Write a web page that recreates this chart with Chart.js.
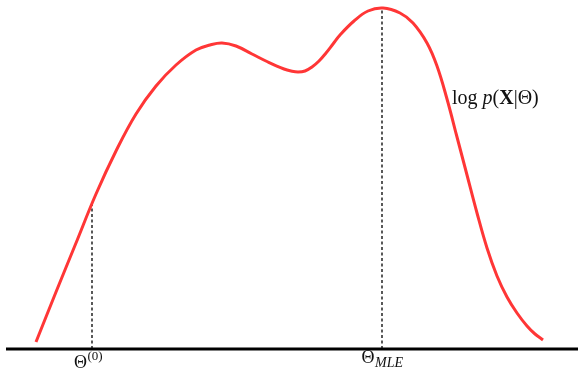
<!DOCTYPE html>
<html>
<head>
<meta charset="utf-8">
<style>
  html, body { margin: 0; padding: 0; background: #ffffff; }
  #wrap { width: 578px; height: 372px; }
</style>
<script src="https://cdn.jsdelivr.net/npm/chart.js@4/dist/chart.umd.min.js"></script>
</head>
<body>
<div id="wrap"><canvas id="c" width="578" height="372"></canvas></div>
<script>
// Parameter values along the horizontal axis
const theta = [36, 56, 76, 96, 116, 136, 156, 176, 196, 210, 222, 236, 252, 268, 284, 291, 298, 305, 312, 319, 326, 333, 340,
               354, 368, 383, 400, 413, 427, 437, 447, 457, 467, 477, 487, 497, 507, 517, 527, 535, 543];
// Log-likelihood log p(X|Θ) at each parameter value
const logLik = [7, 57, 106, 155, 198, 235, 263, 284, 299, 304, 306, 303, 295, 287, 280, 278, 277, 278, 282, 288, 296, 305, 314,
                328, 338, 341, 336, 326, 306, 283, 250, 212, 174, 136, 101, 73, 52, 36, 23, 15, 9];
// Marked parameter values: initial guess and maximum-likelihood estimate
const markerTheta = [92, 382];
const markerLik = [146, 341];
// Extent of the horizontal baseline
const axisRange = [6, 578];

const curve = theta.map((t, i) => ({ x: t, y: logLik[i] }));
const markerSets = markerTheta.map((t, i) => ({
  data: [{ x: t, y: 0 }, { x: t, y: markerLik[i] }],
  borderColor: '#000000',
  borderWidth: 1.3,
  borderDash: [3, 2.5],
  pointRadius: 0,
  tension: 0
}));

const SERIF = '"Liberation Serif", "DejaVu Serif", serif';

const annotate = {
  id: 'annotate',
  afterDatasetsDraw(chart) {
    const { ctx, scales: { x, y } } = chart;
    const y0 = y.getPixelForValue(0);
    ctx.save();
    // baseline
    ctx.strokeStyle = '#000000';
    ctx.lineWidth = 3;
    ctx.beginPath();
    ctx.moveTo(x.getPixelForValue(axisRange[0]), y0);
    ctx.lineTo(x.getPixelForValue(axisRange[1]), y0);
    ctx.stroke();

    ctx.fillStyle = '#111111';
    ctx.textBaseline = 'alphabetic';

    // Θ^(0)
    let px = x.getPixelForValue(markerTheta[0]);
    ctx.font = '18px ' + SERIF;
    const wT = ctx.measureText('Θ').width;
    ctx.font = '13px ' + SERIF;
    const wS = ctx.measureText('(0)').width;
    let left = px - 4 - (wT + wS) / 2;
    ctx.font = '18px ' + SERIF;
    ctx.fillText('Θ', left, y0 + 19);
    ctx.font = '13px ' + SERIF;
    ctx.fillText('(0)', left + wT + 0.5, y0 + 11);

    // Θ_MLE
    px = x.getPixelForValue(markerTheta[1]);
    ctx.font = '18px ' + SERIF;
    const wT2 = ctx.measureText('Θ').width;
    ctx.font = 'italic 14px ' + SERIF;
    const wSub = ctx.measureText('MLE').width;
    left = px - (wT2 + wSub) / 2;
    ctx.font = '18px ' + SERIF;
    ctx.fillText('Θ', left, y0 + 14);
    ctx.font = 'italic 14px ' + SERIF;
    ctx.fillText('MLE', left + wT2 + 0.5, y0 + 18);

    // curve label: log p(X|Θ)
    const parts = [
      ['log ', '20px ' + SERIF],
      ['p', 'italic 20px ' + SERIF],
      ['(', '20px ' + SERIF],
      ['X', 'bold 20px ' + SERIF],
      ['|Θ)', '20px ' + SERIF]
    ];
    let lx = 452;
    const ly = 104;
    parts.forEach(([s, f]) => {
      ctx.font = f;
      ctx.fillText(s, lx, ly);
      lx += ctx.measureText(s).width;
    });
    ctx.restore();
  }
};

new Chart(document.getElementById('c'), {
  type: 'line',
  data: {
    datasets: [
      {
        data: curve,
        borderColor: '#ff3636',
        borderWidth: 3,
        pointRadius: 0,
        tension: 0.4,
        borderCapStyle: 'butt'
      },
      ...markerSets
    ]
  },
  options: {
    responsive: false,
    animation: false,
    layout: { padding: 0 },
    plugins: { legend: { display: false }, tooltip: { enabled: false } },
    scales: {
      x: { type: 'linear', min: 0, max: 578, display: false },
      y: { type: 'linear', min: -23, max: 349, display: false }
    }
  },
  plugins: [annotate]
});
</script>
</body>
</html>
